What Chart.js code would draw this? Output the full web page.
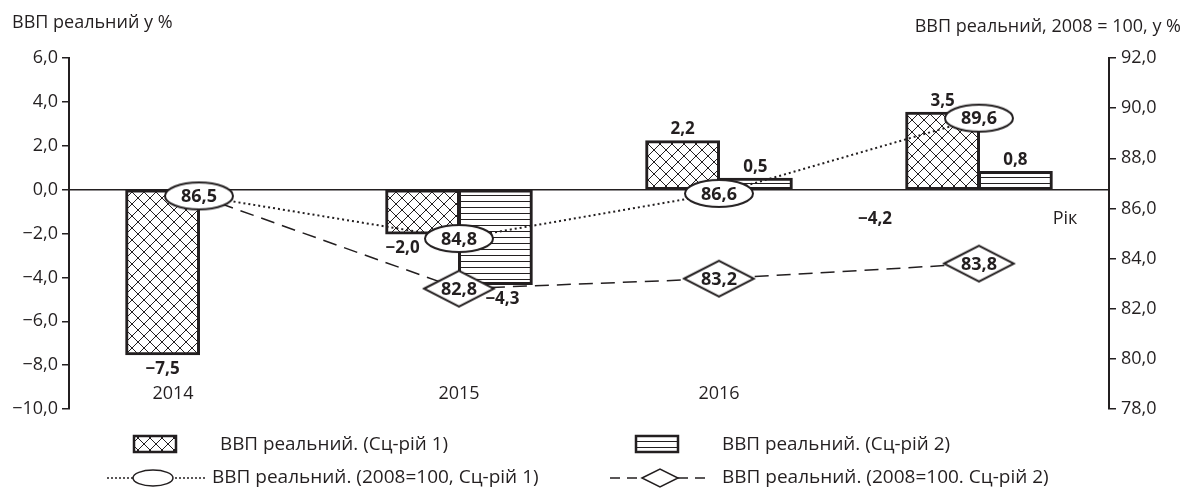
<!DOCTYPE html>
<html>
<head>
<meta charset="utf-8">
<script src="https://cdn.jsdelivr.net/npm/chart.js@4.4.0/dist/chart.umd.min.js"></script>
<style>
  html, body { margin: 0; padding: 0; background: #fff; }
</style>
</head>
<body>
<canvas id="myChart" width="1184" height="491"></canvas>
<script>
// дані
const years = ['2014', '2015', '2016', ''];
const gdpScen1 = [-7.5, -2.0, 2.2, 3.5];
const gdpScen2 = [null, -4.3, 0.5, 0.8];
const idxScen1 = [86.5, 84.8, 86.6, 89.6];
const idxScen2 = [86.5, 82.8, 83.2, 83.8];
const leftTicks = [-10, -8, -6, -4, -2, 0, 2, 4, 6];
const rightTicks = [78, 80, 82, 84, 86, 88, 90, 92];
const seriesNames = [
    'ВВП реальний. (Сц-рій 1)',
    'ВВП реальний. (Сц-рій 2)',
    'ВВП реальний. (2008=100, Сц-рій 1)',
    'ВВП реальний. (2008=100. Сц-рій 2)'
];

const ink = '#231f20';
const font = '"Open Sans", "Noto Sans", sans-serif';
const fmt = v => (v < 0 ? '−' : '') + Math.abs(v).toFixed(1).replace('.', ',');

// штрихування стовпців
function tile(w, h, draw) {
    const c = document.createElement('canvas');
    c.width = w; c.height = h;
    const g = c.getContext('2d');
    g.fillStyle = '#fff';
    g.fillRect(0, 0, w, h);
    g.strokeStyle = ink;
    g.lineWidth = 1;
    draw(g);
    return c;
}
const crossTile = tile(12, 12, g => {
    g.beginPath();
    g.moveTo(-1, -1); g.lineTo(13, 13);
    g.moveTo(13, -1); g.lineTo(-1, 13);
    g.stroke();
});
const stripeTile = tile(6, 6, g => {
    g.beginPath();
    g.moveTo(0, 3.5); g.lineTo(6, 3.5);
    g.stroke();
});
const pctx = document.createElement('canvas').getContext('2d');
const crossFill = pctx.createPattern(crossTile, 'repeat');
const stripeFill = pctx.createPattern(stripeTile, 'repeat');

// маркери: еліпс і ромб
function shapePath(g, shape, x, y, w, h) {
    g.beginPath();
    if (shape === 'ellipse') {
        g.ellipse(x, y, w / 2, h / 2, 0, 0, Math.PI * 2);
    } else {
        g.moveTo(x - w / 2, y); g.lineTo(x, y - h / 2);
        g.lineTo(x + w / 2, y); g.lineTo(x, y + h / 2);
        g.closePath();
    }
}
function marker(shape, w, h) {
    const c = document.createElement('canvas');
    c.width = w + 4; c.height = h + 4;
    const g = c.getContext('2d');
    shapePath(g, shape, c.width / 2, c.height / 2, w, h);
    g.fillStyle = '#fff';
    g.fill();
    g.lineWidth = 2;
    g.strokeStyle = ink;
    g.stroke();
    return c;
}
const ellipseMark = marker('ellipse', 68, 27);
const diamondMark = marker('diamond', 70, 36);

const textPlugin = {
    id: 'texts',
    afterDatasetsDraw(chart) {
        const { ctx, scales } = chart;
        ctx.save();
        ctx.fillStyle = ink;
        ctx.textAlign = 'center';
        ctx.textBaseline = 'middle';
        // підписи стовпців
        ctx.font = 'bold 17px ' + font;
        [0, 1].forEach(di => {
            chart.getDatasetMeta(di).data.forEach((bar, i) => {
                const v = chart.data.datasets[di].data[i];
                if (v == null) return;
                let x = bar.x;
                if (di === 0 && i === 1) x -= 20;
                if (di === 1 && i === 1) x += 7;
                ctx.fillText(fmt(v), x, v >= 0 ? bar.y - 12 : bar.y + 15);
            });
        });
        // підписи в маркерах
        ctx.font = 'bold 18px ' + font;
        [2, 3].forEach(di => {
            chart.getDatasetMeta(di).data.forEach((pt, i) => {
                if (di === 3 && i === 0) return;
                ctx.fillText(fmt(chart.data.datasets[di].data[i]), pt.x, pt.y + 1);
            });
        });
        ctx.font = 'bold 17px ' + font;
        ctx.fillText('−4,2', scales.x.getPixelForValue(2.6), scales.y.getPixelForValue(-1.35));
        ctx.restore();
    },
    afterDraw(chart) {
        const { ctx, scales } = chart;
        ctx.save();
        ctx.fillStyle = ink;
        ctx.textBaseline = 'middle';
        ctx.font = '18px ' + font;
        ctx.textAlign = 'left';
        ctx.fillText('ВВП реальний у %', 12, 23, 166);
        ctx.textAlign = 'right';
        ctx.fillText('ВВП реальний, 2008 = 100, у %', 1181, 27, 280);
        // роки
        ctx.textAlign = 'center';
        years.forEach((y, i) => {
            const x = scales.x.getPixelForValue(i) - (i === 0 ? 26 : 0);
            ctx.fillText(y, x, 394);
        });
        ctx.fillText('Рік', 1065, 219);

        // легенда
        ctx.font = '19px ' + font;
        ctx.textAlign = 'left';
        ctx.lineWidth = 2.5;
        ctx.strokeStyle = ink;
        ctx.fillStyle = crossFill;
        ctx.fillRect(134, 436, 42, 16);
        ctx.strokeRect(134, 436, 42, 16);
        ctx.fillStyle = stripeFill;
        ctx.fillRect(636, 436, 42, 16);
        ctx.strokeRect(636, 436, 42, 16);
        ctx.fillStyle = ink;
        ctx.fillText(seriesNames[0], 220, 445, 228);
        ctx.fillText(seriesNames[1], 722, 445, 228);

        ctx.lineWidth = 1.5;
        ctx.setLineDash([2, 2]);
        ctx.beginPath(); ctx.moveTo(107, 478); ctx.lineTo(207, 478); ctx.stroke();
        ctx.setLineDash([10, 7]);
        ctx.beginPath(); ctx.moveTo(610, 478); ctx.lineTo(708, 478); ctx.stroke();
        ctx.setLineDash([]);
        ctx.fillStyle = '#fff';
        shapePath(ctx, 'ellipse', 153, 478, 40, 16);
        ctx.fill(); ctx.stroke();
        shapePath(ctx, 'diamond', 660, 478, 36, 18);
        ctx.fill(); ctx.stroke();
        ctx.fillStyle = ink;
        ctx.fillText(seriesNames[2], 212, 478, 340);
        ctx.fillText(seriesNames[3], 722, 478, 328);
        ctx.restore();
    }
};

const ctx = document.getElementById('myChart');

new Chart(ctx, {
    type: 'bar',
    data: {
        labels: years,
        datasets: [
            {
                label: seriesNames[0],
                data: gdpScen1,
                backgroundColor: crossFill,
                borderColor: ink,
                borderWidth: 3,
                borderSkipped: false,
                inflateAmount: 1,
                yAxisID: 'y',
                order: 2
            },
            {
                label: seriesNames[1],
                data: gdpScen2,
                backgroundColor: stripeFill,
                borderColor: ink,
                borderWidth: 3,
                borderSkipped: false,
                inflateAmount: 1,
                yAxisID: 'y',
                order: 2
            },
            {
                type: 'line',
                label: seriesNames[2],
                data: idxScen1,
                borderColor: ink,
                borderWidth: 2,
                borderDash: [2, 3],
                pointStyle: ellipseMark,
                pointRadius: 10,
                yAxisID: 'y1',
                order: 0
            },
            {
                type: 'line',
                label: seriesNames[3],
                data: idxScen2,
                borderColor: ink,
                borderWidth: 1.5,
                borderDash: [14, 8],
                pointStyle: diamondMark,
                pointRadius: c => c.dataIndex === 0 ? 0 : 10,
                yAxisID: 'y1',
                order: 1
            }
        ]
    },
    options: {
        responsive: false,
        animation: false,
        devicePixelRatio: 1,
        layout: { padding: { top: 58, bottom: 82, left: 0, right: 0 } },
        plugins: {
            legend: { display: false },
            tooltip: { enabled: false }
        },
        datasets: {
            bar: { categoryPercentage: 0.56, barPercentage: 1 }
        },
        scales: {
            x: { display: false },
            y: {
                position: 'left',
                min: leftTicks[0],
                max: leftTicks[leftTicks.length - 1],
                afterBuildTicks: s => { s.ticks = leftTicks.map(v => ({ value: v })); },
                afterFit: s => { s.width = 69; },
                border: { display: true, color: ink, width: 2 },
                grid: {
                    color: c => c.tick && c.tick.value === 0 ? ink : 'rgba(0,0,0,0)',
                    lineWidth: 1.5,
                    tickColor: ink,
                    tickLength: 7
                },
                ticks: {
                    padding: 4,
                    color: ink,
                    font: { family: font, size: 18 },
                    callback: v => fmt(v)
                }
            },
            y1: {
                position: 'right',
                min: rightTicks[0],
                max: rightTicks[rightTicks.length - 1],
                afterBuildTicks: s => { s.ticks = rightTicks.map(v => ({ value: v })); },
                afterFit: s => { s.width = 75; },
                border: { display: true, color: ink, width: 2 },
                grid: {
                    drawOnChartArea: false,
                    lineWidth: 1.5,
                    color: ink,
                    tickLength: 7
                },
                ticks: {
                    padding: 5,
                    color: ink,
                    font: { family: font, size: 18 },
                    callback: v => fmt(v)
                }
            }
        }
    },
    plugins: [textPlugin]
});
</script>
</body>
</html>
